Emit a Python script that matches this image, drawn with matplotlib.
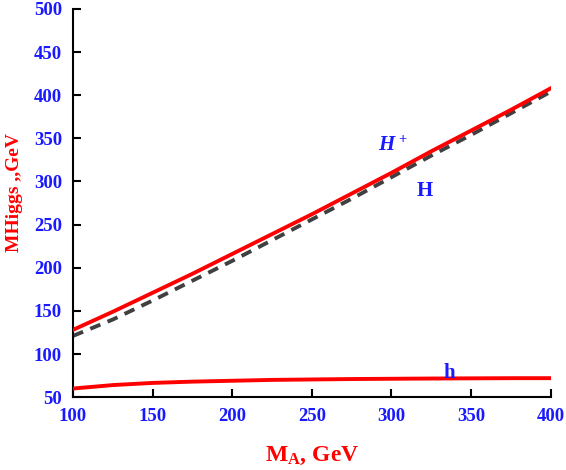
import matplotlib
matplotlib.use("Agg")
import matplotlib.pyplot as plt

plt.rcParams["mathtext.fontset"] = "custom"
plt.rcParams["mathtext.rm"] = "Liberation Serif:bold"
plt.rcParams["mathtext.bf"] = "Liberation Serif:bold"
plt.rcParams["mathtext.it"] = "Liberation Serif:italic:bold"

# Pseudoscalar mass M_A (GeV)
ma = [100, 125, 150, 175, 200, 225, 250, 275, 300, 325, 350, 375, 400]
# Charged Higgs mass
m_hplus = [128, 149, 171, 193, 216, 239, 262, 286, 310, 335, 359, 383, 408]
# Heavy neutral Higgs mass
m_H = [121, 140, 162, 185, 208, 232, 256, 280, 305, 330, 354, 379, 404]
# Light Higgs mass
m_h = [60, 64, 66.5, 68, 69, 70, 70.5, 71, 71.3, 71.6, 71.8, 72, 72]

xticks = [100, 150, 200, 250, 300, 350, 400]
yticks = [50, 100, 150, 200, 250, 300, 350, 400, 450, 500]

serif = ["Liberation Serif", "DejaVu Serif"]
blue = "#1a1aff"
red = "#ff0000"

fig = plt.figure(figsize=(5.66, 4.70), dpi=100)
ax = fig.add_axes([0.129, 0.155, 0.844, 0.826])

ax.plot(ma, m_hplus, color=red, lw=2.8, zorder=3)
ax.plot(ma, m_H, color="#404040", lw=2.8, dashes=(2.8, 2.0), zorder=2)
ax.plot(ma, m_h, color=red, lw=2.8, zorder=3)

ax.set_xlim(100, 400)
ax.set_ylim(50, 500)
ax.set_xticks(xticks)
ax.set_yticks(yticks)
for s in ("top", "right"):
    ax.spines[s].set_visible(False)
for s in ("left", "bottom"):
    ax.spines[s].set_linewidth(1.5)
ax.tick_params(direction="in", length=6, width=1.5, pad=8)
for lab in ax.get_xticklabels() + ax.get_yticklabels():
    lab.set_family(serif)
    lab.set_fontweight("bold")
    lab.set_fontsize(13.5)
    lab.set_color(blue)

ax.set_xlabel(r"M$_\mathrm{A}$, GeV", family=serif, fontweight="bold",
              fontsize=17, color=red, labelpad=14)
ax.set_ylabel("MHiggs ,,GeV", family=serif, fontweight="bold",
              fontsize=14, color=red)
ax.yaxis.set_label_coords(-0.104, 0.526)

ax.text(301, 342, r"$H^+$", color=blue, fontsize=15,
        ha="center", va="center")
ax.text(321, 289, "H", color=blue, fontsize=15, ha="center",
        va="center", family=serif, fontweight="bold")
ax.text(336, 78, "h", color=blue, fontsize=15, ha="center",
        va="center", family=serif, fontweight="bold")

fig.savefig("out.png", dpi=100)
